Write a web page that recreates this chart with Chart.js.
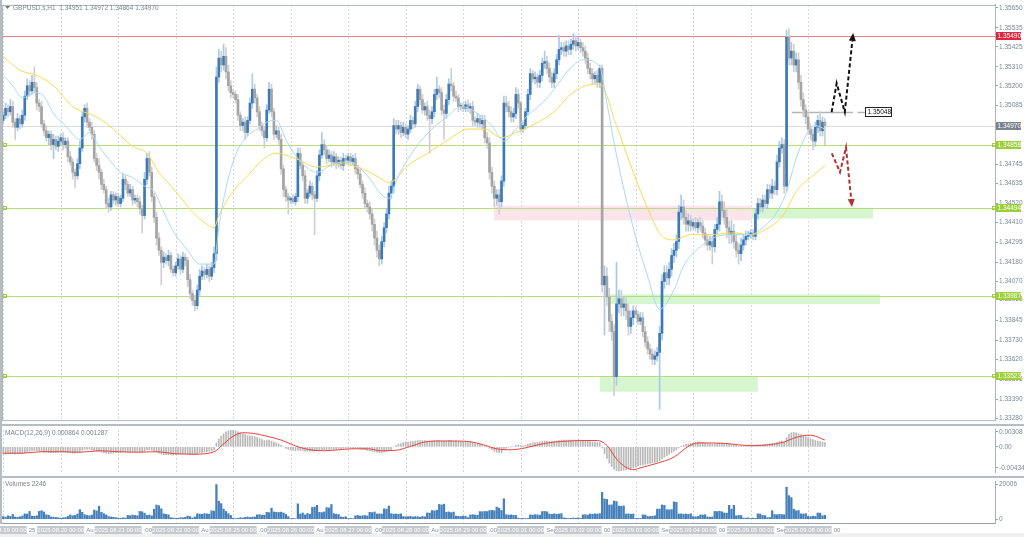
<!DOCTYPE html>
<html>
<head>
<meta charset="utf-8">
<script src="https://cdn.jsdelivr.net/npm/chart.js@4.4.1/dist/chart.umd.min.js"></script>
<style>
  body { margin: 0; background: #fff; width: 1024px; height: 537px; overflow: hidden; position: relative; }
  canvas { position: absolute; left: 0; }
  #priceChart { top: 0; }
  #macdChart { top: 425px; }
  #volChart { top: 477px; }
  .sep { position: absolute; left: 0; width: 1024px; background: #b7bcc2; }
</style>
</head>
<body>
<canvas id="priceChart" width="1024" height="425"></canvas>
<canvas id="macdChart" width="1024" height="52"></canvas>
<canvas id="volChart" width="1024" height="60"></canvas>
<div class="sep" style="top:424px;height:2px"></div>
<div class="sep" style="top:476px;height:2px"></div>
<div class="sep" style="top:0;left:0;width:2px;height:524px"></div>
<script>
// ---- DATA (GBPUSD.s H1, 2025.08.19 00:00 -> 2025.09.08 07:00, one value per hour) ----
const dayStarts = [0, 24, 48, 72, 96, 120, 144, 168, 192, 216, 240, 264, 288, 312, 336];
const dayLabels = ["2025.08.19 00:00", "2025.08.20 00:00", "2025.08.21 00:00", "2025.08.22 00:00",
  "2025.08.25 00:00", "2025.08.26 00:00", "2025.08.27 00:00", "2025.08.28 00:00", "2025.08.29 00:00",
  "2025.09.01 00:00", "2025.09.02 00:00", "2025.09.03 00:00", "2025.09.04 00:00", "2025.09.05 00:00",
  "2025.09.08 00:00"];
// bits of the default MT4 time labels peeking out between the boxed ones
const gapBits = ["25", "Au", ":00", "Au", ":00", "Au", ":00", "Au", ":00", "Sep", "00", "Sep", "00", "Sep", "00"];

const opens = [
  1.3500,1.3503,1.3507,1.3505,1.3508,1.3499,1.3496,1.3501,1.3498,1.3503,1.3514,1.3520,1.3517,1.3522,1.3519,1.3510,1.3508,1.3498,1.3494,1.3490,1.3492,1.3486,1.3489,1.3485,
  1.3488,1.3490,1.3486,1.3488,1.3479,1.3476,1.3470,1.3468,1.3475,1.3484,1.3502,1.3507,1.3499,1.3496,1.3492,1.3478,1.3474,1.3470,1.3463,1.3460,1.3452,1.3450,1.3457,1.3454,
  1.3456,1.3452,1.3455,1.3466,1.3463,1.3458,1.3460,1.3454,1.3455,1.3453,1.3449,1.3445,1.3466,1.3478,1.3470,1.3456,1.3444,1.3432,1.3425,1.3418,1.3421,1.3419,1.3422,1.3414,
  1.3412,1.3416,1.3420,1.3414,1.3421,1.3419,1.3408,1.3400,1.3396,1.3393,1.3402,1.3410,1.3413,1.3411,1.3414,1.3410,1.3415,1.3423,1.3525,1.3536,1.3532,1.3537,1.3528,1.3520,
  1.3516,1.3515,1.3512,1.3503,1.3497,1.3499,1.3493,1.3500,1.3510,1.3518,1.3513,1.3505,1.3497,1.3494,1.3490,1.3506,1.3518,1.3505,1.3492,1.3494,1.3489,1.3472,1.3460,1.3456,
  1.3454,1.3455,1.3453,1.3456,1.3481,1.3474,1.3468,1.3455,1.3458,1.3462,1.3457,1.3455,1.3468,1.3480,1.3486,1.3483,1.3478,1.3480,1.3476,1.3479,1.3475,1.3477,1.3474,1.3478,
  1.3477,1.3479,1.3476,1.3478,1.3472,1.3469,1.3463,1.3458,1.3452,1.3450,1.3446,1.3440,1.3432,1.3425,1.3420,1.3430,1.3438,1.3446,1.3458,1.3462,1.3497,1.3495,1.3497,1.3493,
  1.3496,1.3492,1.3495,1.3500,1.3498,1.3508,1.3518,1.3512,1.3506,1.3508,1.3503,1.3501,1.3505,1.3515,1.3518,1.3516,1.3506,1.3504,1.3512,1.3521,1.3520,1.3514,1.3513,1.3508,
  1.3508,1.3507,1.3509,1.3507,1.3508,1.3500,1.3499,1.3501,1.3498,1.3500,1.3490,1.3487,1.3470,1.3462,1.3455,1.3457,1.3453,1.3465,1.3510,1.3508,1.3505,1.3502,1.3504,1.3515,
  1.3510,1.3495,1.3497,1.3505,1.3515,1.3527,1.3524,1.3525,1.3522,1.3526,1.3533,1.3534,1.3530,1.3525,1.3522,1.3527,1.3535,1.3541,1.3542,1.3540,1.3543,1.3541,1.3544,1.3546,
  1.3543,1.3545,1.3542,1.3540,1.3536,1.3530,1.3527,1.3524,1.3526,1.3522,1.3530,1.3405,1.3410,1.3398,1.3384,1.3378,1.3352,1.3394,1.3397,1.3392,1.3394,1.3390,1.3381,1.3386,
  1.3390,1.3388,1.3384,1.3386,1.3378,1.3372,1.3368,1.3365,1.3362,1.3364,1.3366,1.3377,1.3407,1.3412,1.3409,1.3414,1.3422,1.3425,1.3430,1.3447,1.3450,1.3444,1.3440,1.3442,
  1.3439,1.3441,1.3438,1.3441,1.3439,1.3435,1.3431,1.3428,1.3430,1.3427,1.3437,1.3440,1.3453,1.3448,1.3444,1.3438,1.3434,1.3436,1.3430,1.3425,1.3423,1.3428,1.3431,1.3433,
  1.3434,1.3435,1.3433,1.3446,1.3452,1.3450,1.3454,1.3452,1.3460,1.3458,1.3462,1.3460,1.3476,1.3484,1.3486,1.3462,1.3548,1.3536,1.3540,1.3532,1.3535,1.3522,1.3512,1.3506,
  1.3502,1.3495,1.3492,1.3488,1.3496,1.3500,1.3494,1.3499
];
const closes = [
  1.3503,1.3507,1.3505,1.3508,1.3499,1.3496,1.3501,1.3498,1.3503,1.3514,1.3520,1.3517,1.3522,1.3519,1.3510,1.3508,1.3498,1.3494,1.3490,1.3492,1.3486,1.3489,1.3485,1.3488,
  1.3490,1.3486,1.3488,1.3479,1.3476,1.3470,1.3468,1.3475,1.3484,1.3502,1.3507,1.3499,1.3496,1.3492,1.3478,1.3474,1.3470,1.3463,1.3460,1.3452,1.3450,1.3457,1.3454,1.3456,
  1.3452,1.3455,1.3466,1.3463,1.3458,1.3460,1.3454,1.3455,1.3453,1.3449,1.3445,1.3466,1.3478,1.3470,1.3456,1.3444,1.3432,1.3425,1.3418,1.3421,1.3419,1.3422,1.3414,1.3412,
  1.3416,1.3420,1.3414,1.3421,1.3419,1.3408,1.3400,1.3396,1.3393,1.3402,1.3410,1.3413,1.3411,1.3414,1.3410,1.3415,1.3423,1.3525,1.3536,1.3532,1.3537,1.3528,1.3520,1.3516,
  1.3515,1.3512,1.3503,1.3497,1.3499,1.3493,1.3500,1.3510,1.3518,1.3513,1.3505,1.3497,1.3494,1.3490,1.3506,1.3518,1.3505,1.3492,1.3494,1.3489,1.3472,1.3460,1.3456,1.3454,
  1.3455,1.3453,1.3456,1.3481,1.3474,1.3468,1.3455,1.3458,1.3462,1.3457,1.3455,1.3468,1.3480,1.3486,1.3483,1.3478,1.3480,1.3476,1.3479,1.3475,1.3477,1.3474,1.3478,1.3477,
  1.3479,1.3476,1.3478,1.3472,1.3469,1.3463,1.3458,1.3452,1.3450,1.3446,1.3440,1.3432,1.3425,1.3420,1.3430,1.3438,1.3446,1.3458,1.3462,1.3497,1.3495,1.3497,1.3493,1.3496,
  1.3492,1.3495,1.3500,1.3498,1.3508,1.3518,1.3512,1.3506,1.3508,1.3503,1.3501,1.3505,1.3515,1.3518,1.3516,1.3506,1.3504,1.3512,1.3521,1.3520,1.3514,1.3513,1.3508,1.3508,
  1.3507,1.3509,1.3507,1.3508,1.3500,1.3499,1.3501,1.3498,1.3500,1.3490,1.3487,1.3470,1.3462,1.3455,1.3457,1.3453,1.3465,1.3510,1.3508,1.3505,1.3502,1.3504,1.3515,1.3510,
  1.3495,1.3497,1.3505,1.3515,1.3527,1.3524,1.3525,1.3522,1.3526,1.3533,1.3534,1.3530,1.3525,1.3522,1.3527,1.3535,1.3541,1.3542,1.3540,1.3543,1.3541,1.3544,1.3546,1.3543,
  1.3545,1.3542,1.3540,1.3536,1.3530,1.3527,1.3524,1.3526,1.3522,1.3530,1.3405,1.3410,1.3398,1.3384,1.3378,1.3352,1.3394,1.3397,1.3392,1.3394,1.3390,1.3381,1.3386,1.3390,
  1.3388,1.3384,1.3386,1.3378,1.3372,1.3368,1.3365,1.3362,1.3364,1.3366,1.3377,1.3407,1.3412,1.3409,1.3414,1.3422,1.3425,1.3430,1.3447,1.3450,1.3444,1.3440,1.3442,1.3439,
  1.3441,1.3438,1.3441,1.3439,1.3435,1.3431,1.3428,1.3430,1.3427,1.3437,1.3440,1.3453,1.3448,1.3444,1.3438,1.3434,1.3436,1.3430,1.3425,1.3423,1.3428,1.3431,1.3433,1.3434,
  1.3435,1.3433,1.3446,1.3452,1.3450,1.3454,1.3452,1.3460,1.3458,1.3462,1.3460,1.3476,1.3484,1.3486,1.3462,1.3548,1.3536,1.3540,1.3532,1.3535,1.3522,1.3512,1.3506,1.3502,
  1.3495,1.3492,1.3488,1.3496,1.3500,1.3494,1.3499,1.3497
];
// wick lengths above / below the body, in pips (0.0001)
const wickUp = [
  2,3,2,4,3,2,3,2,3,3,4,3,4,9,3,2,3,2,3,2,2,3,2,3,
  2,3,2,2,3,2,2,3,4,3,2,3,2,3,2,3,4,2,3,2,3,2,2,2,
  2,2,3,2,2,3,2,2,2,3,2,4,3,4,3,2,3,3,2,3,2,3,2,2,
  2,3,2,3,2,2,3,2,3,3,4,3,2,3,2,3,4,6,5,4,7,5,4,3,
  2,2,3,2,2,3,2,3,9,3,2,3,2,2,3,4,3,2,3,2,3,2,2,2,
  1,2,2,3,3,2,3,2,3,2,2,3,3,7,3,2,3,2,3,2,2,2,3,2,
  2,2,2,3,2,3,2,3,2,3,3,3,4,3,3,3,3,4,3,4,3,3,2,3,
  2,2,3,2,3,3,2,3,2,3,3,3,3,7,2,3,3,3,3,9,2,3,2,2,
  2,2,3,2,3,2,3,2,3,3,3,3,3,3,3,3,3,4,4,3,3,3,4,3,
  1,2,2,3,3,2,3,2,3,3,6,3,3,3,3,3,8,3,3,3,3,3,4,3,
  3,2,3,3,3,3,3,2,3,2,2,6,5,5,4,4,24,5,5,4,4,4,4,3,
  2,2,3,3,3,3,3,3,3,3,4,4,4,4,4,4,4,4,4,7,4,4,4,3,
  2,3,2,3,3,3,3,3,3,3,4,6,4,5,5,4,6,4,4,4,4,3,3,2,
  2,2,3,3,3,3,3,3,3,4,3,4,4,4,3,4,5,5,4,4,4,4,4,3,
  3,3,3,3,3,5,3,2
];
const wickDown = [
  2,2,3,2,3,7,2,3,2,3,2,3,2,3,4,3,2,3,2,4,3,8,2,3,
  2,3,2,3,2,4,7,2,3,2,3,3,2,3,2,3,4,3,2,3,3,2,2,3,
  2,2,2,3,2,2,3,2,3,3,10,2,3,2,3,3,4,3,13,3,2,3,2,2,
  2,2,3,2,3,4,3,3,3,2,3,2,3,2,3,2,3,4,3,4,3,4,3,3,
  2,2,3,3,3,4,2,2,3,3,3,3,3,6,2,2,3,3,2,3,3,4,3,8,
  2,1,2,3,2,3,3,3,2,3,21,2,3,2,3,3,2,3,2,3,2,2,3,2,
  2,2,2,3,3,2,3,3,3,3,4,4,4,4,3,3,3,3,3,4,3,3,3,2,
  2,3,2,3,2,3,3,2,3,3,20,3,3,3,3,3,15,3,3,3,3,2,3,2,
  2,2,2,3,3,2,3,2,3,3,3,4,4,5,4,7,3,3,3,3,3,3,3,3,
  2,2,2,2,3,2,3,3,3,3,3,3,3,3,3,3,3,3,3,3,3,3,3,3,
  2,3,3,3,3,3,3,3,3,3,4,29,5,6,5,11,5,5,5,5,5,5,4,4,
  2,2,2,3,3,3,3,3,3,3,33,4,4,4,4,4,4,4,4,4,4,4,4,3,
  2,2,3,3,3,3,3,3,10,3,3,4,4,4,6,5,5,4,4,6,4,3,3,2,
  2,2,2,3,3,3,3,3,3,3,3,3,3,3,4,3,4,4,4,4,4,4,4,4,
  3,3,5,3,3,3,3,11
];
const volumes = [
  1500,1200,2000,1600,2700,1300,1100,1400,1900,3100,3000,4500,1800,1700,2000,4500,4900,4200,2500,2300,1300,1200,1000,900,
  600,800,1000,1600,2500,2000,2200,3000,5500,4000,2600,2200,2000,2400,5300,4800,7500,4000,3200,2500,1500,1300,1100,900,
  700,600,800,700,2200,2000,2400,2200,2000,4500,4300,3500,2200,2400,2000,5800,8200,7800,6000,3100,2800,2500,900,700,
  500,600,900,800,1200,1800,1500,700,1300,3100,3000,2800,3200,3100,2900,4900,4700,20000,10400,9000,5800,4500,3200,2200,
  600,400,500,900,700,1100,1300,1000,1200,1300,2500,2600,2400,2300,4000,3800,6400,4200,4000,3900,4100,3600,2800,1500,
  300,400,300,8900,3000,3600,2500,3300,2800,6800,7000,8000,4000,3800,4200,6700,6500,8500,3200,2900,2700,1300,1200,1400,
  400,500,300,2000,2200,1800,2000,2100,1900,4000,3800,4200,3000,3100,3000,6000,5800,7600,3200,2900,3000,2800,3100,1500,
  1400,1500,1600,1300,1500,1400,1200,1600,1400,3600,3500,5000,4800,5200,8500,8200,8700,4000,4200,3800,4100,1800,1700,1600,
  1800,1700,900,2500,2600,2400,2300,4400,4300,4500,4400,5000,5100,4900,7000,6400,5000,11800,2600,2400,2500,2300,2200,600,
  400,500,400,450,2500,2400,2600,2500,2400,4400,4500,4300,3000,2800,3100,2900,3000,3200,800,600,400,500,700,600,
  800,500,2500,2600,2400,3000,2900,3100,3000,3200,15500,11700,11400,8200,8300,10500,10200,7600,7500,7700,3000,3100,2900,3000,
  400,500,400,2500,2400,1600,1500,1700,2000,5800,5900,8200,8000,5500,5400,5600,10000,9800,3000,3100,2900,3000,2800,3100,
  1500,1400,1600,2500,2400,2600,1300,1200,1300,4500,4400,4600,4300,3600,3500,8000,5800,8000,2000,2200,2100,700,600,800,
  500,600,500,3100,3000,2200,2100,900,1000,4900,2700,2600,2800,2700,2600,18500,13600,12500,5800,4900,5000,3100,3000,3200,
  1600,1500,1700,1600,3600,3500,2000,2246
];
// MACD(12,26,9) main line, drawn as histogram
const macdMain = [
  -0.0015,-0.0015,-0.0014,-0.0014,-0.0014,-0.0015,-0.0014,-0.0014,-0.0013,-0.0012,-0.0010,-0.0009,-0.0008,-0.0008,-0.0008,-0.0009,-0.0010,-0.0011,-0.0011,-0.0012,-0.0012,-0.0012,-0.0012,-0.0011,
  -0.0011,-0.0011,-0.0011,-0.0012,-0.0012,-0.0013,-0.0013,-0.0012,-0.0010,-0.0007,-0.0005,-0.0005,-0.0005,-0.0006,-0.0008,-0.0009,-0.0010,-0.0011,-0.0012,-0.0013,-0.0014,-0.0013,-0.0013,-0.0012,
  -0.0012,-0.0012,-0.0010,-0.0010,-0.0010,-0.0010,-0.0010,-0.0010,-0.0010,-0.0010,-0.0011,-0.0009,-0.0006,-0.0006,-0.0007,-0.0009,-0.0011,-0.0013,-0.0015,-0.0016,-0.0016,-0.0016,-0.0016,-0.0017,
  -0.0016,-0.0015,-0.0015,-0.0014,-0.0014,-0.0015,-0.0016,-0.0016,-0.0016,-0.0015,-0.0013,-0.0012,-0.0011,-0.0010,-0.0009,-0.0008,-0.0006,0.0008,0.0016,0.0022,0.0027,0.0031,0.0033,0.0034,
  0.0034,0.0033,0.0031,0.0029,0.0027,0.0025,0.0023,0.0022,0.0022,0.0021,0.0019,0.0017,0.0015,0.0013,0.0013,0.0014,0.0012,0.0010,0.0008,0.0006,0.0003,0.0000,-0.0003,-0.0005,
  -0.0006,-0.0007,-0.0008,-0.0007,-0.0007,-0.0008,-0.0009,-0.0009,-0.0009,-0.0009,-0.0009,-0.0008,-0.0007,-0.0006,-0.0006,-0.0006,-0.0005,-0.0005,-0.0005,-0.0005,-0.0004,-0.0004,-0.0003,-0.0003,
  -0.0003,-0.0003,-0.0003,-0.0003,-0.0003,-0.0004,-0.0005,-0.0006,-0.0007,-0.0008,-0.0009,-0.0010,-0.0011,-0.0012,-0.0012,-0.0011,-0.0010,-0.0008,-0.0006,0.0000,0.0003,0.0006,0.0007,0.0009,
  0.0010,0.0010,0.0011,0.0011,0.0012,0.0013,0.0013,0.0013,0.0013,0.0012,0.0012,0.0012,0.0013,0.0013,0.0013,0.0012,0.0012,0.0012,0.0013,0.0013,0.0012,0.0012,0.0011,0.0011,
  0.0010,0.0010,0.0009,0.0009,0.0008,0.0007,0.0006,0.0005,0.0004,0.0002,0.0000,-0.0003,-0.0006,-0.0009,-0.0011,-0.0012,-0.0012,-0.0006,-0.0003,-0.0001,0.0000,0.0001,0.0003,0.0004,
  0.0003,0.0002,0.0003,0.0005,0.0007,0.0008,0.0009,0.0009,0.0010,0.0011,0.0012,0.0012,0.0011,0.0011,0.0011,0.0012,0.0013,0.0014,0.0014,0.0014,0.0014,0.0014,0.0014,0.0014,
  0.0014,0.0014,0.0013,0.0013,0.0012,0.0011,0.0010,0.0010,0.0009,0.0009,-0.0002,-0.0014,-0.0024,-0.0033,-0.0040,-0.0046,-0.0049,-0.0050,-0.0049,-0.0048,-0.0047,-0.0046,-0.0045,-0.0043,
  -0.0041,-0.0039,-0.0038,-0.0037,-0.0036,-0.0035,-0.0034,-0.0033,-0.0032,-0.0031,-0.0029,-0.0025,-0.0021,-0.0018,-0.0015,-0.0012,-0.0009,-0.0006,-0.0002,0.0001,0.0003,0.0005,0.0006,0.0007,
  0.0008,0.0009,0.0010,0.0010,0.0009,0.0008,0.0007,0.0006,0.0006,0.0006,0.0007,0.0008,0.0008,0.0007,0.0006,0.0005,0.0005,0.0004,0.0003,0.0002,0.0002,0.0002,0.0002,0.0002,
  0.0002,0.0002,0.0003,0.0004,0.0004,0.0005,0.0005,0.0006,0.0006,0.0007,0.0007,0.0009,0.0011,0.0012,0.0010,0.0019,0.0025,0.0029,0.0030,0.0029,0.0027,0.0025,0.0023,0.0021,
  0.0019,0.0017,0.0015,0.0013,0.0012,0.0011,0.0010,0.0009
];
// MACD signal line, read at these bar numbers
const signalIdx = [0,8,16,24,32,40,48,56,64,72,80,88,92,96,100,104,110,116,122,128,134,140,146,152,158,164,170,176,182,188,194,200,206,212,218,224,230,236,242,248,252,256,260,263,266,272,280,286,290,296,304,310,316,322,326,330,334,337,343];
const signalVals = [-0.0013,-0.0013,-0.0010,-0.0010,-0.0011,-0.0008,-0.0010,-0.0011,-0.0010,-0.0014,-0.0015,-0.0010,0.0006,0.0022,0.0029,0.0028,0.0022,0.0014,0.0002,-0.0006,-0.0008,-0.0006,-0.0004,-0.0004,-0.0008,-0.0007,0.0001,0.0010,0.0012,0.0012,0.0011,0.0005,-0.0004,-0.0006,-0.0002,0.0005,0.0010,0.0012,0.0013,0.0013,0.0003,-0.0025,-0.0042,-0.0047,-0.0043,-0.0035,-0.0021,0.0001,0.0008,0.0008,0.0006,0.0003,0.0003,0.0006,0.0010,0.0018,0.0023,0.0024,0.0014];
// moving averages on the price panel, read at these bar numbers
const fastMaIdx = [0,4,8,13,17,21,26,32,36,40,45,49,54,59,63,67,71,77,82,88,90,93,97,102,106,110,114,118,123,131,138,145,152,158,161,165,172,179,186,191,198,204,209,214,219,225,230,236,242,249,252,256,263,269,274,280,284,291,298,305,312,317,323,327,331,335,339,343];
const fastMa = [1.3526,1.3520,1.3513,1.3516,1.3514,1.3504,1.3497,1.3489,1.3493,1.3485,1.3476,1.3470,1.3467,1.3462,1.3459,1.3447,1.3436,1.3425,1.3417,1.3417,1.3438,1.3461,1.3480,1.3491,1.3495,1.3499,1.3500,1.3489,1.3478,1.3470,1.3475,1.3476,1.3468,1.3457,1.3455,1.3468,1.3484,1.3495,1.3503,1.3508,1.3504,1.3497,1.3488,1.3495,1.3503,1.3510,1.3518,1.3529,1.3535,1.3531,1.3510,1.3480,1.3438,1.3410,1.3391,1.3402,1.3416,1.3427,1.3433,1.3434,1.3434,1.3438,1.3447,1.3459,1.3478,1.3491,1.3497,1.3495];
const slowMaIdx = [0,7,14,21,29,39,46,54,60,65,72,79,85,88,90,96,102,109,114,122,131,141,150,157,161,169,177,186,194,201,208,214,222,230,236,243,249,256,263,270,275,280,287,295,305,312,317,326,331,338,343];
const slowMa = [1.3537,1.3529,1.3526,1.3520,1.3508,1.3502,1.3495,1.3485,1.3481,1.3470,1.3459,1.3447,1.3440,1.3438,1.3445,1.3459,1.3468,1.3478,1.3481,1.3478,1.3473,1.3475,1.3472,1.3467,1.3464,1.3474,1.3481,1.3489,1.3495,1.3495,1.3490,1.3493,1.3498,1.3505,1.3514,1.3520,1.3521,1.3497,1.3470,1.3446,1.3433,1.3431,1.3434,1.3434,1.3435,1.3434,1.3436,1.3446,1.3459,1.3468,1.3474];

const priceTicks = [1.35650,1.35535,1.35425,1.35310,1.35200,1.35085,1.34745,1.34635,1.34520,1.34410,1.34295,1.34180,1.34070,1.33965,1.33845,1.33730,1.33620,1.33505,1.33390,1.33280];
const macdTicks = [0.00308, 0, -0.004342];
const macdTickText = ["0.00308", "0.00", "-0.004342"];
const volTicks = [20006, 0];

// drawn objects on the price panel
const resistance = 1.35490;
const supports = [1.34858, 1.34494, 1.33987, 1.33523];
const lastPrice = 1.34970;
const targetLevel = 1.35048;
const zones = [
  { i0: 204.8, i1: 312.5, p0: 1.34507, p1: 1.34422, color: "#fce4ea" },
  { i0: 312.5, i1: 363.1, p0: 1.34496, p1: 1.34433, color: "#d6f6cf" },
  { i0: 252.4, i1: 366.0, p0: 1.33996, p1: 1.33939, color: "#d6f6cf" },
  { i0: 249.1, i1: 315.0, p0: 1.33518, p1: 1.33433, color: "#d6f6cf" }
];
const upPath = [[345.8, 1.35048], [347.9, 1.35214], [351.3, 1.35048], [354.8, 1.35505]];
const downPath = [[345.9, 1.34809], [349.3, 1.34701], [351.8, 1.34843], [354.3, 1.34500]];

// ---- helpers ----
const FONT = '"Liberation Sans", Arial, sans-serif';
const xMin = -0.5, xMax = 414;
const axisColor = "#7b8896";

const highs = closes.map((c, i) => Math.max(opens[i], c) + wickUp[i] / 10000);
const lows = closes.map((c, i) => Math.min(opens[i], c) - wickDown[i] / 10000);
const bull = closes.map((c, i) => c >= opens[i]);

function xScale() {
  return { type: "linear", display: false, min: xMin, max: xMax, offset: false };
}
function rightAxis(min, max, ticks, label) {
  return {
    position: "right", min, max,
    afterBuildTicks: (s) => { s.ticks = ticks.map((v) => ({ value: v })); },
    afterFit: (s) => { s.width = 29; },
    ticks: { autoSkip: false, padding: 1, color: axisColor, font: { family: FONT, size: 6.5 }, callback: label },
    grid: { drawOnChartArea: false, tickLength: 3, color: "#9aa3ad" },
    border: { color: "#a9afb6" }
  };
}
function dayGrid(chart) {
  const { ctx, chartArea: a, scales: { x } } = chart;
  ctx.save();
  ctx.strokeStyle = "#d4d7db";
  ctx.lineWidth = 1;
  ctx.setLineDash([2, 2]);
  dayStarts.forEach((d) => {
    const px = Math.round(x.getPixelForValue(d)) + 0.5;
    ctx.beginPath(); ctx.moveTo(px, a.top); ctx.lineTo(px, a.bottom); ctx.stroke();
  });
  ctx.restore();
}
function hLine(ctx, a, yy, color, width) {
  ctx.strokeStyle = color; ctx.lineWidth = width || 1;
  ctx.beginPath(); ctx.moveTo(a.left, Math.round(yy) + 0.5); ctx.lineTo(a.right, Math.round(yy) + 0.5); ctx.stroke();
}
function dashedArrow(ctx, pts, color) {
  const n = pts.length;
  const [x1, y1] = pts[n - 2], [x2, y2] = pts[n - 1];
  const ang = Math.atan2(y2 - y1, x2 - x1);
  const bx = x2 - 8 * Math.cos(ang), by = y2 - 8 * Math.sin(ang);
  ctx.save();
  ctx.strokeStyle = color; ctx.lineWidth = 2; ctx.setLineDash([4, 2.5]);
  ctx.beginPath();
  pts.forEach((p, k) => {
    const px = k === n - 1 ? bx : p[0], py = k === n - 1 ? by : p[1];
    k ? ctx.lineTo(px, py) : ctx.moveTo(px, py);
  });
  ctx.stroke();
  ctx.setLineDash([]);
  ctx.fillStyle = color;
  ctx.beginPath();
  ctx.moveTo(x2, y2);
  ctx.lineTo(bx + 3.5 * Math.sin(ang), by - 3.5 * Math.cos(ang));
  ctx.lineTo(bx - 3.5 * Math.sin(ang), by + 3.5 * Math.cos(ang));
  ctx.closePath(); ctx.fill();
  ctx.restore();
}
function tag(ctx, yy, text, bg) {
  yy = Math.round(yy);
  ctx.fillStyle = bg; ctx.fillRect(996, yy - 4, 25, 8);
  ctx.fillStyle = "#ffffff"; ctx.font = "6.5px " + FONT;
  ctx.textAlign = "left"; ctx.textBaseline = "middle";
  ctx.fillText(text, 997.5, yy + 0.5);
}

// ---- price panel ----
const priceOverlay = {
  id: "priceOverlay",
  beforeDatasetsDraw(chart) {
    const { ctx, chartArea: a, scales: { x, y } } = chart;
    dayGrid(chart);
    ctx.save();
    zones.forEach((z) => {
      const x0 = x.getPixelForValue(z.i0), x1 = x.getPixelForValue(z.i1);
      const y0 = y.getPixelForValue(z.p0), y1 = y.getPixelForValue(z.p1);
      ctx.fillStyle = z.color; ctx.fillRect(x0, y0, x1 - x0, y1 - y0);
    });
    hLine(ctx, a, y.getPixelForValue(lastPrice), "#dcdcdc");
    hLine(ctx, a, y.getPixelForValue(resistance), "#e8808c");
    supports.forEach((p) => hLine(ctx, a, y.getPixelForValue(p), "#b6dc7c"));
    // target level segment
    const ty = Math.round(y.getPixelForValue(targetLevel)) + 0.5;
    ctx.strokeStyle = "#b4b4b4"; ctx.lineWidth = 1.5;
    ctx.beginPath(); ctx.moveTo(x.getPixelForValue(329.2), ty); ctx.lineTo(x.getPixelForValue(354.7), ty); ctx.stroke();
    ctx.beginPath(); ctx.moveTo(x.getPixelForValue(356.6), ty); ctx.lineTo(x.getPixelForValue(359.7), ty); ctx.stroke();
    ctx.restore();
  },
  afterDatasetsDraw(chart) {
    const { ctx, scales: { x, y } } = chart;
    const toPx = (pts) => pts.map((p) => [x.getPixelForValue(p[0]), y.getPixelForValue(p[1])]);
    dashedArrow(ctx, toPx(upPath), "#111111");
    dashedArrow(ctx, toPx(downPath), "#b3302c");
    // target level label
    const bx = Math.round(x.getPixelForValue(359.7)) + 0.5;
    const by = Math.round(y.getPixelForValue(targetLevel));
    ctx.save();
    ctx.fillStyle = "#ffffff"; ctx.fillRect(bx, by - 4.5, 26, 9);
    ctx.strokeStyle = "#222"; ctx.lineWidth = 1; ctx.strokeRect(bx, by - 4.5, 26, 9);
    ctx.fillStyle = "#111"; ctx.font = "6.5px " + FONT; ctx.textBaseline = "middle";
    ctx.fillText(targetLevel.toFixed(5), bx + 2, by + 0.5);
    ctx.restore();
  },
  afterDraw(chart) {
    const { ctx, chartArea: a, scales: { y } } = chart;
    ctx.save();
    ctx.strokeStyle = "#b0b6bc"; ctx.lineWidth = 1;
    ctx.strokeRect(a.left + 0.5, a.top + 0.5, a.right - a.left, a.bottom - a.top);
    tag(ctx, y.getPixelForValue(resistance), resistance.toFixed(5), "#e0253f");
    tag(ctx, y.getPixelForValue(lastPrice), lastPrice.toFixed(5), "#7c8490");
    supports.forEach((p) => {
      const yy = Math.round(y.getPixelForValue(p));
      tag(ctx, yy, p.toFixed(5), "#9ccf3a");
      ctx.strokeStyle = "#9ccf3a"; ctx.strokeRect(992.5, yy - 1.5, 3, 3);
      ctx.strokeRect(3.5, yy - 1.5, 3, 3);
    });
    // title
    ctx.fillStyle = "#6f7782";
    ctx.beginPath(); ctx.moveTo(5, 6); ctx.lineTo(10, 6); ctx.lineTo(7.5, 9); ctx.closePath(); ctx.fill();
    ctx.fillStyle = "#7d858f"; ctx.font = "6.5px " + FONT; ctx.textBaseline = "middle"; ctx.textAlign = "left";
    ctx.fillText("GBPUSD.s,H1  1.34951 1.34972 1.34864 1.34970", 13, 8);
    ctx.restore();
  }
};

new Chart(document.getElementById("priceChart"), {
  type: "bar",
  data: {
    datasets: [
      { type: "line", data: fastMaIdx.map((i, k) => ({ x: i, y: fastMa[k] })), borderColor: "#a9d9f2", borderWidth: 1, pointRadius: 0, cubicInterpolationMode: "monotone", order: 1 },
      { type: "line", data: slowMaIdx.map((i, k) => ({ x: i, y: slowMa[k] })), borderColor: "#f8da52", borderWidth: 1, pointRadius: 0, cubicInterpolationMode: "monotone", order: 1 },
      { data: closes.map((c, i) => ({ x: i, y: [opens[i], c] })), backgroundColor: bull.map((b) => (b ? "#3b79b7" : "#a4a4a4")), barThickness: 2, minBarLength: 1, grouped: false, order: 2 },
      { data: closes.map((c, i) => ({ x: i, y: [lows[i], highs[i]] })), backgroundColor: bull.map((b) => (b ? "#a9c9e7" : "#cfcfcf")), barThickness: 1, grouped: false, order: 3 }
    ]
  },
  options: {
    responsive: false, animation: false, events: [],
    layout: { padding: { left: 2, right: 0, top: 2, bottom: 1 } },
    plugins: { legend: { display: false }, tooltip: { enabled: false } },
    scales: { x: xScale(), y: rightAxis(1.33269, 1.35667, priceTicks, (v) => v.toFixed(5)) }
  },
  plugins: [priceOverlay]
});

// ---- MACD panel ----
new Chart(document.getElementById("macdChart"), {
  type: "bar",
  data: {
    datasets: [
      { type: "line", data: signalIdx.map((i, k) => ({ x: i, y: signalVals[k] })), borderColor: "#e8453c", borderWidth: 1, pointRadius: 0, cubicInterpolationMode: "monotone", order: 1 },
      { data: macdMain.map((v, i) => ({ x: i, y: v })), backgroundColor: "#b9b9b9", barThickness: 1, grouped: false, order: 2 }
    ]
  },
  options: {
    responsive: false, animation: false, events: [],
    layout: { padding: { left: 2, right: 0, top: 2, bottom: 1 } },
    plugins: { legend: { display: false }, tooltip: { enabled: false } },
    scales: { x: xScale(), y: rightAxis(-0.005186, 0.003487, macdTicks, (v, k) => macdTickText[k]) }
  },
  plugins: [{
    id: "macdOverlay",
    beforeDatasetsDraw: dayGrid,
    afterDraw(chart) {
      const { ctx } = chart;
      ctx.save();
      ctx.fillStyle = "#7d858f"; ctx.font = "6.5px " + FONT; ctx.textBaseline = "middle";
      ctx.fillText("MACD(12,26,9) 0.000864 0.001287", 5, 8);
      ctx.restore();
    }
  }]
});

// ---- Volume panel + time axis ----
new Chart(document.getElementById("volChart"), {
  type: "bar",
  data: { datasets: [{ data: volumes.map((v, i) => ({ x: i, y: v })), backgroundColor: "#4580bb", barThickness: 1.6, grouped: false }] },
  options: {
    responsive: false, animation: false, events: [],
    layout: { padding: { left: 2, right: 0, top: 3, bottom: 14 } },
    plugins: { legend: { display: false }, tooltip: { enabled: false } },
    scales: { x: xScale(), y: rightAxis(-2180, 21530, volTicks, (v) => String(v)) }
  },
  plugins: [{
    id: "volOverlay",
    beforeDatasetsDraw: dayGrid,
    afterDraw(chart) {
      const { ctx, chartArea: a, scales: { x } } = chart;
      ctx.save();
      ctx.strokeStyle = "#9aa1a8"; ctx.lineWidth = 1;
      ctx.beginPath(); ctx.moveTo(0, a.bottom + 0.5); ctx.lineTo(a.right, a.bottom + 0.5); ctx.stroke();
      ctx.fillStyle = "#f0f0f0"; ctx.fillRect(0, 56, 1024, 4);
      ctx.fillStyle = "#7d858f"; ctx.font = "6.5px " + FONT; ctx.textBaseline = "middle";
      ctx.fillText("Volumes 2246", 5, 7);
      ctx.font = "6px " + FONT;
      const top = a.bottom + 3;
      dayStarts.forEach((d, k) => {
        const cx = x.getPixelForValue(d);
        ctx.fillStyle = "#c5c8cc"; ctx.fillRect(cx - 23.5, top, 47, 8);
        ctx.fillStyle = "#ffffff"; ctx.textAlign = "center";
        ctx.fillText(dayLabels[k], cx, top + 4.5);
        ctx.fillStyle = "#8a9099"; ctx.textAlign = "left";
        ctx.fillText(gapBits[k], cx + 25.5, top + 4.5);
      });
      ctx.restore();
    }
  }]
});
</script>
</body>
</html>
